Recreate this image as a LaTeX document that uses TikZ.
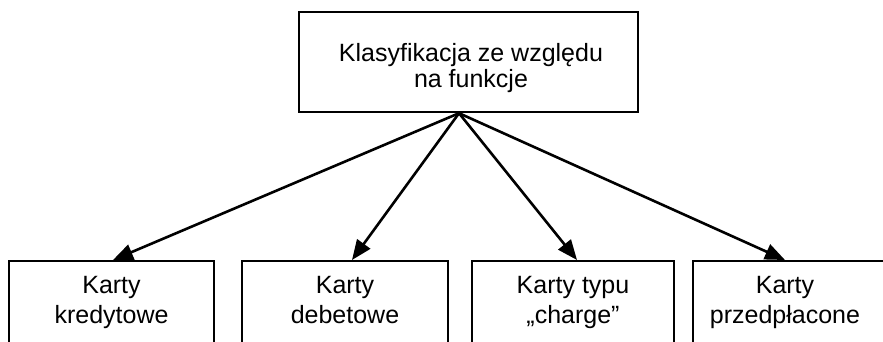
\documentclass[tikz,border=0pt]{standalone}
\usepackage{fontspec}
\setmainfont{Liberation Sans}
\usetikzlibrary{arrows.meta}
\begin{document}
\begin{tikzpicture}[x=1pt,y=-1pt,
  boxshape/.style={draw,line width=2.4pt,inner sep=0pt},
  toplbl/.style={align=center,inner sep=0pt,font=\fontsize{25pt}{26pt}\selectfont},
  botlbl/.style={align=center,inner sep=0pt,font=\fontsize{25pt}{30pt}\selectfont},
  conn/.style={line width=2.6pt,-{Triangle[length=20pt,width=16pt]}}]
\useasboundingbox (0,0) rectangle (883,342);
\clip (0,0) rectangle (883,342);
\node[boxshape,minimum width=339pt,minimum height=100pt] (top) at (468.5,62) {};
\node[toplbl] (toptext) at (471,69) {Klasyfikacja ze względu\strut\\na funkcje\strut};
\coordinate (hub) at ([xshift=-9.5pt]top.south);
\node[boxshape,anchor=north,minimum width=205pt,minimum height=120pt] (b1) at (111.5,260) {};
\node[boxshape,anchor=north,minimum width=206pt,minimum height=120pt] (b2) at (345,260) {};
\node[boxshape,anchor=north,minimum width=202pt,minimum height=120pt] (b3) at (573,260) {};
\node[boxshape,anchor=north,minimum width=205pt,minimum height=120pt] (b4) at (795.5,260) {};
\node[botlbl] (t1) at (111.5,302) {Karty\strut\\kredytowe\strut};
\node[botlbl] (t2) at (345,302) {Karty\strut\\debetowe\strut};
\node[botlbl] (t3) at (573,302) {Karty typu\strut\\„charge”\strut};
\node[botlbl] (t4) at (785,302) {Karty\strut\\przedpłacone\strut};
\draw[conn] (hub) -- ([xshift=1.5pt]b1.north);
\draw[conn] (hub) -- ([xshift=7pt]b2.north);
\draw[conn] (hub) -- ([xshift=4pt]b3.north);
\draw[conn] (hub) -- ([xshift=-10.5pt]b4.north);
\end{tikzpicture}
\end{document}
